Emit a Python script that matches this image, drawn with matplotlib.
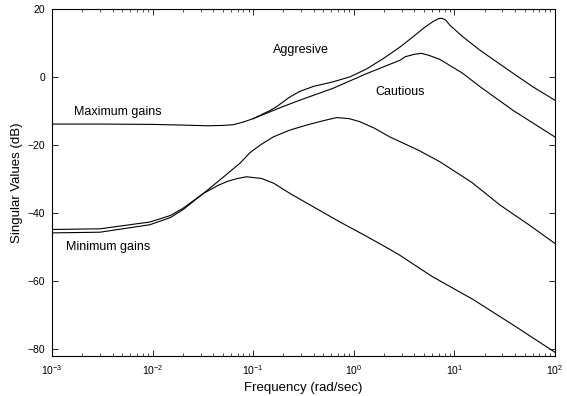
import numpy as np
import matplotlib.pyplot as plt

plt.rcParams['font.family'] = ['Liberation Sans', 'DejaVu Sans']
plt.rcParams['mathtext.fontset'] = 'custom'
plt.rcParams['mathtext.rm'] = 'Liberation Sans'

# maximum gains, common part (both controllers)
w_max = [0.001, 0.003, 0.01, 0.02, 0.035, 0.05, 0.063, 0.08, 0.1]
sv_max = [-13.8, -13.8, -13.9, -14.1, -14.3, -14.2, -14.0, -13.2, -12.2]

# aggressive controller, maximum gain
w_agg = [0.1, 0.12, 0.145, 0.171, 0.2, 0.23, 0.29, 0.4, 0.62, 0.92, 1.36, 2.0, 2.9,
         3.9, 5.0, 6.1, 7.0, 7.5, 8.2, 9.0, 12.0, 18.0, 26.0, 38.5, 60.0, 100.0]
sv_agg = [-12.2, -11.1, -9.9, -8.7, -7.2, -5.9, -4.2, -2.7, -1.4, 0.1, 2.5, 5.6, 8.9,
          11.9, 14.5, 16.3, 17.2, 17.3, 16.8, 15.3, 12.0, 7.9, 4.6, 1.1, -2.8, -6.8]

# cautious controller, maximum gain
w_cau = [0.1, 0.2, 0.29, 0.62, 1.36, 2.9, 3.25, 4.0, 4.7, 5.6, 7.2, 12.0, 18.0, 38.0,
         100.0]
sv_cau = [-12.2, -8.6, -6.8, -3.3, 1.1, 5.0, 6.0, 6.7, 7.0, 6.4, 5.2, 1.2, -2.8, -9.7,
          -17.6]

# minimum gains
w_min = [0.001, 0.003, 0.0094, 0.015, 0.02, 0.032, 0.05, 0.074, 0.093, 0.12, 0.158,
         0.23, 0.34, 0.5, 0.676, 0.9, 1.15, 1.6, 2.29, 4.4, 7.2, 15.0, 28.4, 55.0, 100.0]
sv_min_a = [-45.8, -45.6, -43.4, -41.3, -39.0, -34.2, -29.5, -25.3, -22.2, -19.8, -17.6,
            -15.6, -14.1, -12.8, -11.9, -12.2, -13.1, -15.0, -17.6, -21.5, -24.9,
            -31.0, -37.6, -43.4, -48.9]
w_min_b = [0.001, 0.003, 0.0094, 0.015, 0.02, 0.032, 0.045, 0.056, 0.07, 0.086, 0.121,
           0.16, 0.232, 0.4, 0.73, 1.3, 2.3, 2.88, 6.0, 15.4, 40.0, 100.0]
sv_min_b = [-44.8, -44.6, -42.6, -40.7, -38.6, -34.2, -31.8, -30.6, -29.8, -29.3, -29.8,
            -31.2, -34.2, -38.2, -42.6, -46.6, -50.7, -52.4, -58.6, -65.4, -73.2, -80.9]

fig = plt.figure(figsize=(5.67, 3.96), dpi=100)
ax = fig.add_axes([0.0917, 0.101, 0.887, 0.876])

lw = 0.8
ax.semilogx(w_max, sv_max, color='black', lw=lw)
ax.semilogx(w_agg, sv_agg, color='black', lw=lw)
ax.semilogx(w_cau, sv_cau, color='black', lw=lw)
ax.semilogx(w_min, sv_min_a, color='black', lw=lw)
ax.semilogx(w_min_b, sv_min_b, color='black', lw=lw)

ax.text(0.00166, -10.3, 'Maximum gains', fontsize=9, va='center')
ax.text(0.158, 7.9, 'Aggresive', fontsize=9, va='center')
ax.text(1.65, -4.4, 'Cautious', fontsize=9, va='center')
ax.text(0.00138, -50, 'Minimum gains', fontsize=9, va='center')

ax.set_xlim(1e-3, 1e2)
ax.set_ylim(-82, 20)
ax.set_yticks([-80, -60, -40, -20, 0, 20])
ax.set_xlabel('Frequency (rad/sec)', fontsize=9.5, labelpad=4)
ax.set_ylabel('Singular Values (dB)', fontsize=9.5, labelpad=3)
ax.tick_params(which='both', direction='in', top=True, right=True, labelsize=7.5)
ax.tick_params(which='major', length=4, width=0.6, pad=5)
ax.tick_params(which='minor', length=2.5, width=0.5)
for s in ax.spines.values():
    s.set_linewidth(0.8)

fig.savefig('out.png', dpi=100)
